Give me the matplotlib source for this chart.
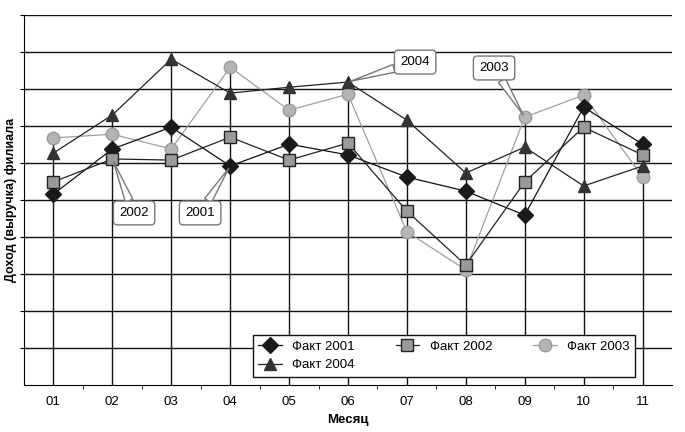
import matplotlib.pyplot as plt
import numpy as np

plt.rcParams['font.family'] = ['Liberation Sans', 'DejaVu Sans']

# months 01..11, values (y axis has no numbers)
months = ["01", "02", "03", "04", "05", "06", "07", "08", "09", "10", "11"]
fact_2001 = [51.6, 63.8, 69.7, 59.2, 65.1, 62.2, 56.2, 52.4, 45.9, 75.1, 65.1]
fact_2002 = [54.9, 61.1, 60.8, 67.0, 60.8, 65.4, 47.0, 32.4, 54.9, 69.7, 62.2]
fact_2003 = [66.8, 67.8, 63.8, 85.9, 74.3, 78.6, 41.4, 31.1, 72.4, 78.4, 56.2]
fact_2004 = [62.7, 73.0, 88.1, 78.9, 80.5, 81.9, 71.6, 57.3, 64.3, 53.8, 59.2]

x = np.arange(1, len(months) + 1)

fig = plt.figure(figsize=(6.85, 4.32), dpi=100)
ax = fig.add_axes([0.035, 0.109, 0.946, 0.856])

ax.set_xlim(0.5, 11.5)
ax.set_ylim(0, 100)

# horizontal grid
for g in range(10, 101, 10):
    ax.axhline(g, color="#111111", lw=1.0, zorder=1)

# drop lines from the highest point of each month
top = np.max([fact_2001, fact_2002, fact_2003, fact_2004], axis=0)
ax.vlines(x, 0, top, color="#111111", lw=1.0, zorder=1)

l1, = ax.plot(x, fact_2001, color="#111111", lw=0.9, marker="D", ms=8,
              mfc="#1a1a1a", mec="#1a1a1a", label="Факт 2001", zorder=4)
l2, = ax.plot(x, fact_2002, color="#222222", lw=0.9, marker="s", ms=8,
              mfc="#9a9a9a", mec="#222222", label="Факт 2002", zorder=4)
l3, = ax.plot(x, fact_2003, color="#9f9f9f", lw=0.9, marker="o", ms=9,
              mfc="#b5b5b5", mec="#9a9a9a", label="Факт 2003", zorder=3)
l4, = ax.plot(x, fact_2004, color="#222222", lw=0.9, marker="^", ms=9,
              mfc="#333333", mec="#333333", label="Факт 2004", zorder=4)

# callouts
box = dict(boxstyle="round,pad=0.45,rounding_size=0.3", fc="white", ec="#777777", lw=1)
def callout(txt, i, series, tx, ty):
    ax.annotate(txt, xy=(x[i], series[i]), xytext=(tx, ty), fontsize=9.5,
                ha="center", va="center", bbox=box, zorder=6,
                arrowprops=dict(arrowstyle="wedge,tail_width=0.6,shrink_factor=0.5",
                                fc="white", ec="#777777", lw=1,
                                shrinkA=0, shrinkB=2))

callout("2004", 5, fact_2004, 7.14, 87.3)
callout("2003", 8, fact_2003, 8.48, 85.7)
callout("2002", 1, fact_2002, 2.37, 46.5)
callout("2001", 3, fact_2001, 3.49, 46.5)

# legend filled row by row: 2001 2002 2003 / 2004
leg = ax.legend([l1, l4, l2, l3], ["Факт 2001", "Факт 2004", "Факт 2002", "Факт 2003"],
                loc="lower left", bbox_to_anchor=(0.353, 0.022, 0.59, 0.124),
                mode="expand", ncol=3, fontsize=9.5, fancybox=False,
                handlelength=1.8, borderaxespad=0, framealpha=1,
                edgecolor="#111111")
leg.get_frame().set_linewidth(1.0)
leg.set_zorder(7)

ax.set_xticks(x)
ax.set_xticklabels(months, fontsize=9.5)
ax.set_xticks(np.arange(1.5, 11, 1), minor=True)
ax.tick_params(axis="x", which="major", length=0, pad=8)
ax.tick_params(axis="x", which="minor", length=3, direction="out")
ax.set_yticks(range(10, 101, 10))
ax.set_yticklabels([])
ax.tick_params(axis="y", length=3, direction="out")

ax.spines["top"].set_visible(False)
ax.spines["right"].set_visible(False)

ax.set_xlabel("Месяц", fontsize=9.5, fontweight="bold", labelpad=4)
ax.set_ylabel("Доход (выручка) филиала", fontsize=9, fontweight="bold", va="center")
ax.yaxis.set_label_coords(-0.02, 0.5)

fig.savefig("out.png", dpi=100)
